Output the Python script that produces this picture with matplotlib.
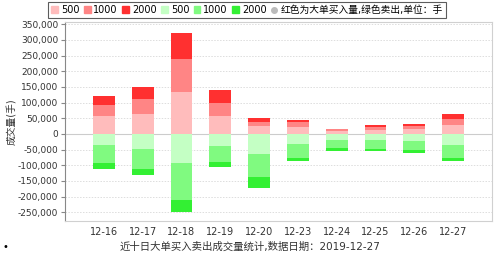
import matplotlib
matplotlib.use("Agg")
import matplotlib.pyplot as plt
from matplotlib.patches import Patch
from matplotlib.lines import Line2D
from matplotlib.ticker import FuncFormatter
import numpy as np

plt.rcParams['font.family'] = ['DejaVu Sans', 'Noto Sans CJK SC']

dates = ["12-16", "12-17", "12-18", "12-19", "12-20", "12-23", "12-24", "12-25", "12-26", "12-27"]
buy_500 = [57000, 63000, 135000, 56000, 25500, 23000, 9000, 13000, 15000, 29000]
buy_1000 = [36000, 48000, 103000, 42500, 13000, 14000, 5000, 10000, 11000, 19000]
buy_2000 = [29000, 40000, 85000, 40000, 13000, 8500, 3000, 6000, 6000, 16000]
sell_500 = [36000, 49000, 91500, 38000, 64000, 33000, 21000, 19000, 22000, 35000]
sell_1000 = [58500, 63000, 121000, 51000, 73000, 44000, 24500, 29000, 31000, 42500]
sell_2000 = [18000, 18000, 38000, 17000, 37000, 10600, 9600, 6000, 7500, 10600]
legend_labels = ["500", "1000", "2000", "500", "1000", "2000", "红色为大单买入量,绿色卖出,单位：手"]
ylabel = "成交量(手)"
title = "近十日大单买入卖出成交量统计,数据日期：2019-12-27"

red_colors = ["#ffbcbc", "#ff8585", "#ff3030"]
green_colors = ["#c4ffc4", "#80fa80", "#33f033"]

fig = plt.figure(figsize=(4.98, 2.57), dpi=100)
ax = fig.add_axes([65/498, 1-221/257, 427/498, 199/257])

x = np.arange(len(dates))
w = 0.56
bottom = np.zeros(len(dates))
for vals, c in zip([buy_500, buy_1000, buy_2000], red_colors):
    ax.bar(x, vals, w, bottom=bottom, color=c, zorder=3)
    bottom += np.array(vals)
bottom = np.zeros(len(dates))
for vals, c in zip([sell_500, sell_1000, sell_2000], green_colors):
    v = -np.array(vals)
    ax.bar(x, v, w, bottom=bottom, color=c, zorder=3)
    bottom += v

ax.set_xlim(-1, len(dates))
ax.set_ylim(-278000, 357000)
ax.set_yticks(np.arange(-250000, 350001, 50000))
ax.yaxis.set_major_formatter(FuncFormatter(lambda v, p: f"{int(v):,}"))
ax.set_xticks(x)
ax.set_xticklabels(dates)
ax.tick_params(axis='x', length=0, labelsize=7, colors='#333333', pad=4)
ax.tick_params(axis='y', length=3, labelsize=6.5, colors='#333333', pad=2, color='#888888')
for t in ax.get_yticks():
    if t == 0:
        ax.axhline(0, color='#cccccc', lw=0.8, zorder=1)
    else:
        ax.axhline(t, color='#dddddd', lw=0.7, ls=(0, (1.5, 1.5)), zorder=1)
for s in ['top', 'right', 'bottom']:
    ax.spines[s].set_color('#d0d0d0')
    ax.spines[s].set_linewidth(0.8)
ax.spines['left'].set_color('#888888')
ax.set_ylabel(ylabel, fontsize=7, color='#333333', labelpad=0)

handles = [Patch(color=c) for c in red_colors + green_colors]
handles.append(Line2D([], [], marker='o', color='#bbbbbb', ls='none', markersize=4))
leg = fig.legend(handles, legend_labels, loc='center', bbox_to_anchor=(247/498, 1-10/257),
                 ncol=7, fontsize=7, frameon=True, fancybox=False, handlelength=0.7,
                 handleheight=0.7, handletextpad=0.3, columnspacing=0.45, borderpad=0.3,
                 borderaxespad=0)
leg.get_frame().set_edgecolor('#333333')
leg.get_frame().set_linewidth(0.8)

fig.text(250/498, 1-247/257, title, ha='center', va='center', fontsize=7.5, color='#333333')
fig.text(5/498, 1-247/257, "•", ha='center', va='center', fontsize=7, color='#000000')

fig.savefig("out.png", dpi=100)
